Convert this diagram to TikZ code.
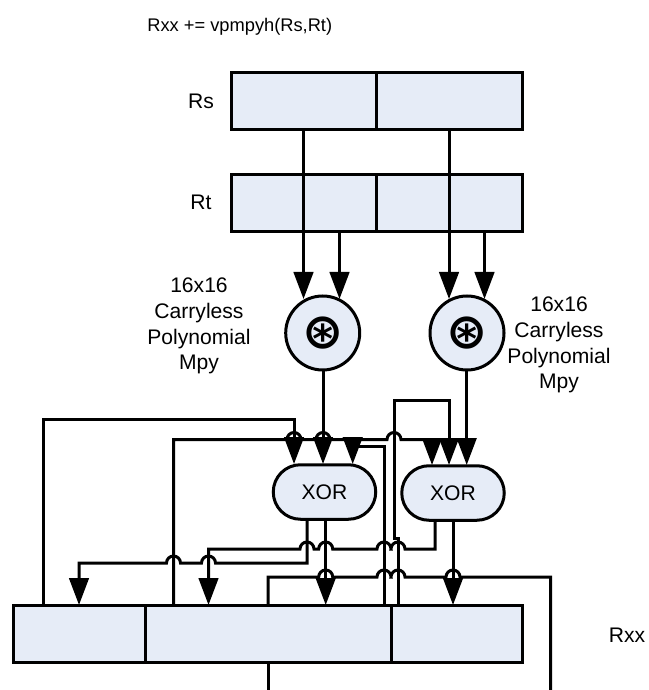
\documentclass[tikz,border=0pt]{standalone}
\usepackage{fontspec}
\setmainfont{Liberation Sans}
\newfontfamily\symfont{DejaVu Sans Bold}
\usetikzlibrary{arrows.meta,shapes.misc}
\definecolor{regblue}{HTML}{E6ECF7}

% hops of a wire over a vertical one, going right and going left
\newcommand{\hopr}[2]{-- (#1-7,#2) arc[start angle=180,end angle=0,radius=1.4mm]}
\newcommand{\hopl}[2]{-- (#1+7,#2) arc[start angle=0,end angle=180,radius=1.4mm]}

\begin{document}
\begin{tikzpicture}[
    x=0.2mm,
    y=-0.2mm,
    >={Triangle[length=5.4mm,width=3.9mm]},
    every node/.style={font=\fontsize{12}{14.7}\selectfont},
    cell/.style={
        rectangle,
        draw=black,
        fill=regblue,
        line width=0.6mm,
        minimum height=11.5mm,
        inner sep=0pt
    },
    halfcell/.style={cell, minimum width=29.1mm},
    mpy/.style={
        circle,
        draw=black,
        fill=regblue,
        line width=0.6mm,
        minimum size=14.8mm,
        inner sep=0pt
    },
    xorbox/.style={
        rounded rectangle,
        draw=black,
        fill=regblue,
        line width=0.6mm,
        minimum width=20.5mm,
        minimum height=10.9mm,
        inner sep=0pt
    },
    lbl/.style={align=center, inner sep=0pt},
    wire/.style={line width=0.6mm, draw=black},
    feed/.style={wire, ->}
]
\useasboundingbox (0,0) rectangle (648,690);

% ==================== Source registers ====================
\node[lbl, font=\fontsize{10.4}{12}\selectfont, anchor=west] (title) at (147,27) {Rxx += vpmpyh(Rs,Rt)};

\node[halfcell] (rs1) at (304,101) {};
\node[halfcell] (rs0) at (449.5,101) {};
\node[halfcell] (rt1) at (304,203) {};
\node[halfcell] (rt0) at (449.5,203) {};
\node[lbl] (rslbl) at (201,101) {Rs};
\node[lbl] (rtlbl) at (201,202) {Rt};

% ==================== Multipliers ====================
\node[mpy] (mpy1) at (322.7,333) {};
\node[mpy] (mpy0) at (467,333) {};
\node[lbl, font=\symfont\fontsize{28}{28}\selectfont] (star1) at (322.7,333) {⊛};
\node[lbl, font=\symfont\fontsize{28}{28}\selectfont] (star0) at (467,333) {⊛};
\node[lbl] (mpylbl1) at (199,326) {16x16\\Carryless\\Polynomial\\Mpy};
\node[lbl] (mpylbl0) at (559,345) {16x16\\Carryless\\Polynomial\\Mpy};

\draw[feed] (303.5,130) -- (303.5,299);
\draw[feed] (339.5,232) -- (339.5,299);
\draw[feed] (449,130) -- (449,299);
\draw[feed] (484.5,232) -- (484.5,299);

% ==================== XORs and destination register ====================
\node[xorbox] (xor1) at (324.5,492) {XOR};
\node[xorbox] (xor0) at (453,493) {XOR};

\node[cell, minimum width=26.2mm] (rxx3) at (79.5,634) {};
\node[cell, minimum width=49.2mm] (rxx2) at (268,634) {};
\node[cell, minimum width=26.2mm] (rxx1) at (456.5,634) {};
\node[lbl] (rxxlbl) at (627,635) {Rxx};

% xor feed points on the register
\coordinate (in1a) at (294,464);
\coordinate (in1b) at (323,464);
\coordinate (in1c) at (352.7,464);
\coordinate (in0a) at (432,465);
\coordinate (in0b) at (449,465);
\coordinate (in0c) at (466.7,465);
\coordinate (out3) at (79,605);
\coordinate (out2a) at (208.5,605);
\coordinate (out2b) at (325.7,605);
\coordinate (out1) at (453,605);
\coordinate (ovfl) at (550.7,690);
\coordinate (low) at (268,690);

% ==================== Feedback from Rxx ====================
\draw[wire] (173.5,605) -- (173.5,439.5) \hopr{294}{439.5} \hopr{323}{439.5} \hopr{394}{439.5} -- (432,439.5);
\draw[feed] (43,605) -- (43,419.5) -- (294,419.5) -- (in1a);
\draw[feed] (323,370) -- (in1b);
\draw[feed] (384,605) -- (384,446) -- (352.7,446) -- (in1c);
\draw[feed] (432,440) -- (in0a);
\draw[feed] (398,605) -- (398,538) -- (394,538) -- (394,400) -- (449,400) -- (in0b);
\draw[feed] (466.7,370) -- (in0c);

% ==================== XOR outputs ====================
\draw[feed] (435,521) -- (435,549) \hopl{398}{549} \hopl{384}{549} \hopl{325.7}{549} \hopl{307}{549} -- (208.5,549) -- (out2a);
\draw[feed] (307,519) -- (307,563) \hopl{208.5}{563} \hopl{173.5}{563} -- (79,563) -- (out3);
\draw[wire] (268,605) -- (268,577) \hopr{325.7}{577} \hopr{384}{577} \hopr{398}{577} \hopr{453}{577} -- (550.7,577) -- (ovfl);
\draw[feed] (325.7,519) -- (out2b);
\draw[feed] (453,521) -- (out1);
\draw[wire] (268,663) -- (low);

\end{tikzpicture}
\end{document}
